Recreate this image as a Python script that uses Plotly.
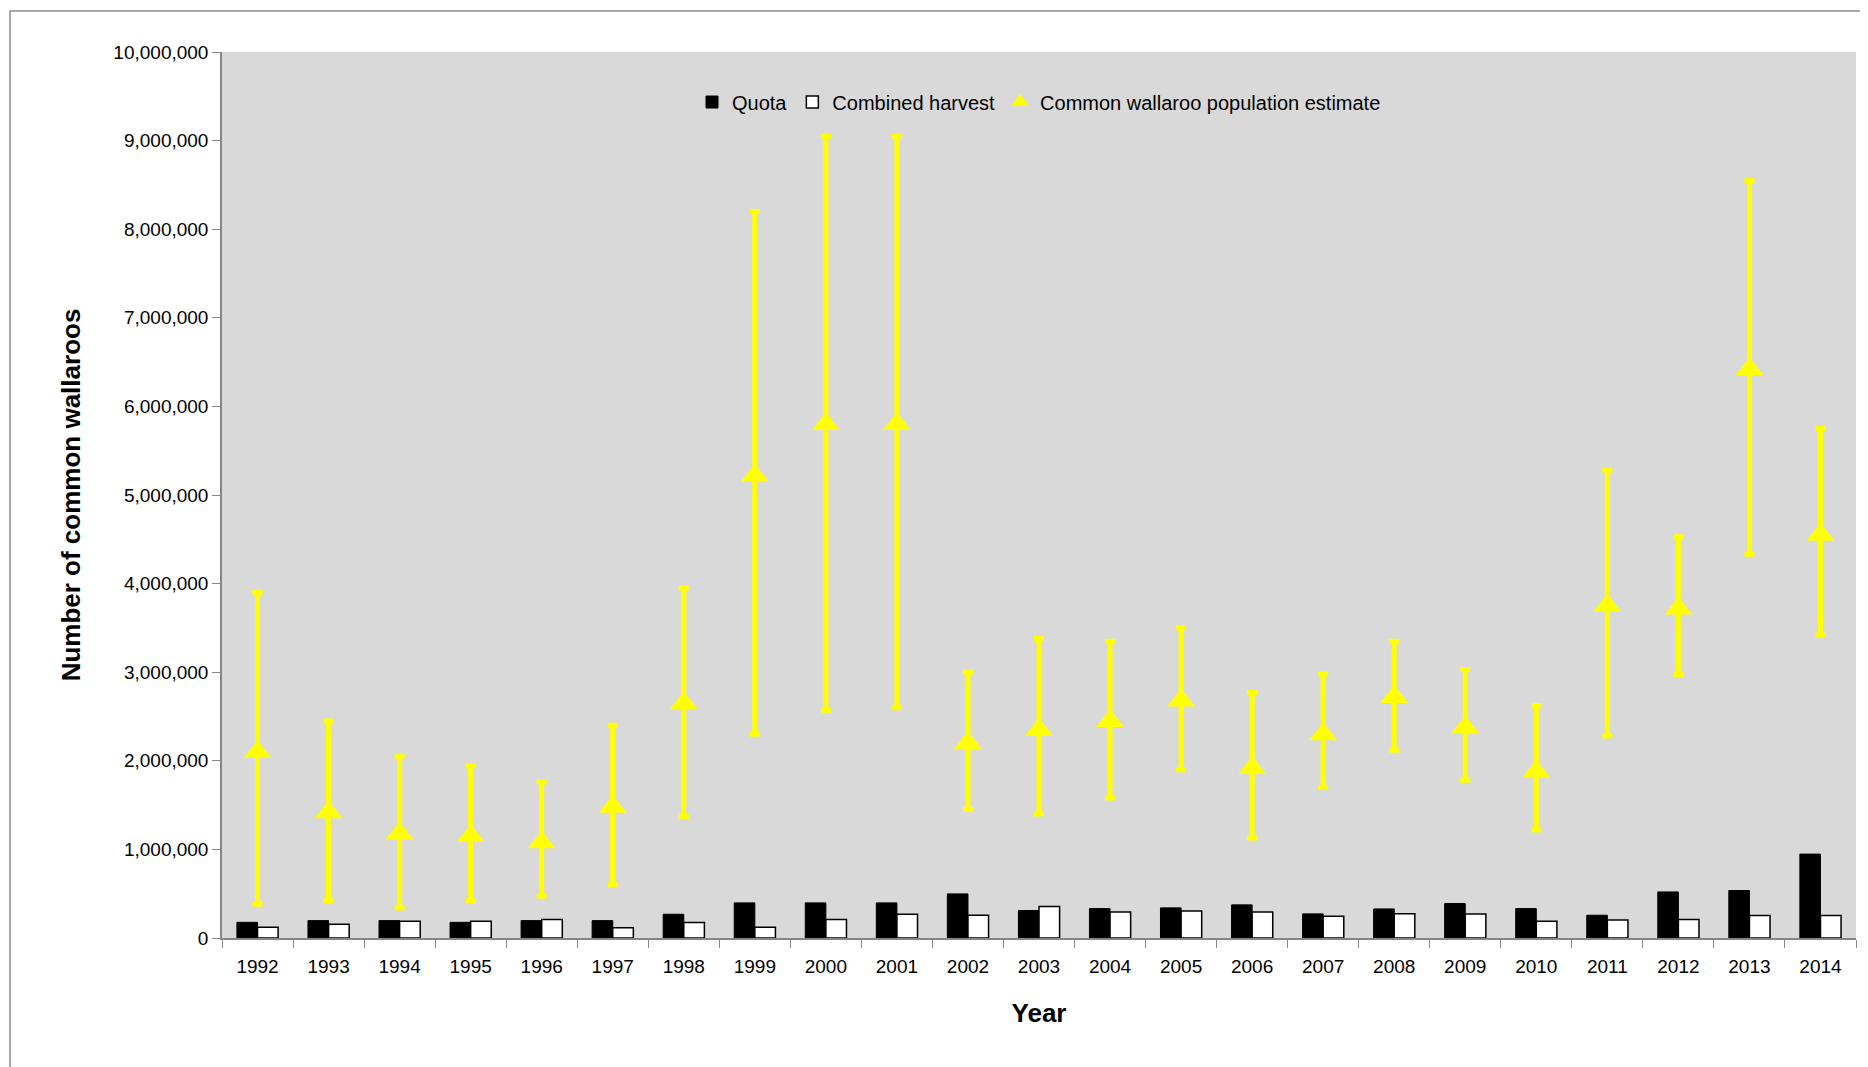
import plotly.graph_objects as go

years = [str(y) for y in range(1992, 2015)]
quota = [177000,196000,196000,177000,196000,196000,268000,396000,396000,396000,498000,310000,332000,340000,374000,272000,328000,389000,332000,257000,520000,536000,947000]
harvest = [120000,155000,190000,190000,210000,117000,174000,120000,210000,268000,257000,355000,294000,306000,294000,245000,275000,272000,189000,204000,210000,253000,253000]
pop = [2100000,1420000,1180000,1150000,1080000,1480000,2650000,5220000,5800000,5800000,2200000,2350000,2450000,2680000,1920000,2300000,2720000,2380000,1880000,3750000,3720000,6420000,4550000]
pop_low = [380000,420000,340000,420000,470000,600000,1370000,2300000,2570000,2600000,1450000,1400000,1580000,1900000,1130000,1700000,2120000,1780000,1220000,2280000,2970000,4330000,3420000]
pop_high = [3900000,2450000,2050000,1940000,1760000,2400000,3950000,8200000,9050000,9050000,3000000,3380000,3350000,3500000,2770000,2980000,3350000,3030000,2620000,5280000,4530000,8550000,5750000]

W, H = 1868, 1067
L, R, T, B = 214, 20, 44, 137
font = "Liberation Sans Narrow, Arial Narrow, sans-serif"

fig = go.Figure()
fig.add_bar(x=years, y=quota, name="Quota", marker=dict(color="black", line=dict(color="black", width=1)))
fig.add_bar(x=years, y=harvest, name="Combined harvest", marker=dict(color="white", line=dict(color="black", width=1.5)))
fig.add_scatter(x=years, y=pop, mode="markers", name="Common wallaroo population estimate",
                marker=dict(symbol="triangle-up", size=24, color="#FFFF00"),
                error_y=dict(type="data", symmetric=False,
                             array=[h - p for h, p in zip(pop_high, pop)],
                             arrayminus=[p - l for p, l in zip(pop, pop_low)],
                             color="#FFFF00", thickness=5, width=5))

px = lambda v: (v - L) / (W - L - R)
py = lambda v: 1 - (v - T) / (H - T - B)
fig.add_shape(type="rect", xref="paper", yref="paper", x0=px(2), x1=px(1866), y0=py(1070), y1=py(3),
              line=dict(color="#8c8c8c", width=1.5), layer="below")

fig.update_layout(
    width=W, height=H, margin=dict(l=L, r=R, t=T, b=B),
    paper_bgcolor="white", plot_bgcolor="#D9D9D9",
    barmode="group", bargap=0.42, bargroupgap=0,
    font=dict(family=font, size=19, color="black"),
    legend=dict(orientation="h", x=0.5, xanchor="center", y=py(94), yanchor="middle",
                bgcolor="rgba(0,0,0,0)", font=dict(size=20), itemwidth=30),
    xaxis=dict(title=dict(text="<b>Year</b>", font=dict(family="Liberation Sans, Arial", size=26), standoff=28),
               range=[-0.5, 22.5], autorange=False, ticklabelstandoff=10,
               showline=True, linecolor="#868686", linewidth=1.5, ticks="outside", tickcolor="#868686",
               ticklen=8, tickson="boundaries", showgrid=False),
    yaxis=dict(title=dict(text="<b>Number of common wallaroos</b>", font=dict(family="Liberation Sans, Arial", size=26), standoff=25),
               range=[0, 10000000], dtick=1000000, tickformat=",d", showgrid=False,
               showline=True, linecolor="#868686", linewidth=1.5, ticks="outside", tickcolor="#868686",
               ticklen=8, zeroline=False),
)
fig.write_html("out.html")
